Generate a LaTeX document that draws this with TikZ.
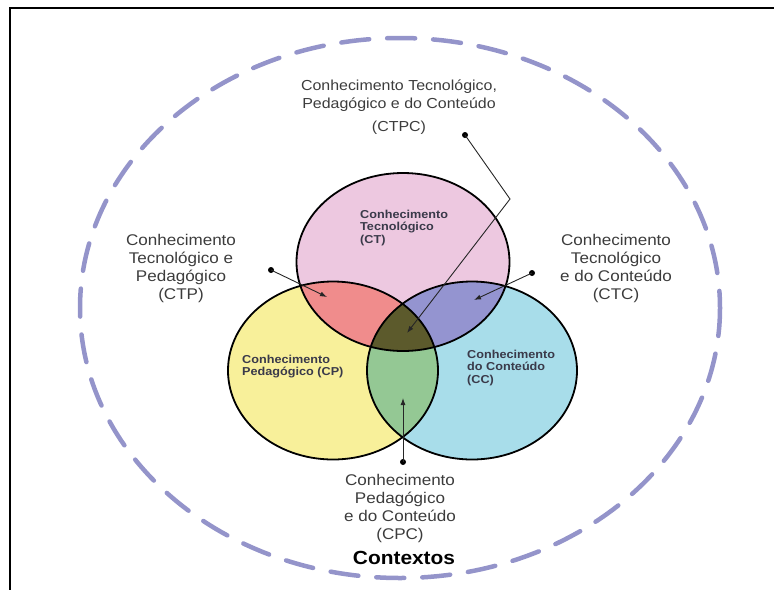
\documentclass[tikz,border=0pt]{standalone}
\usepackage{fontspec}
\setmainfont{Liberation Sans}[FakeStretch=1.1]
\usetikzlibrary{arrows.meta}

\definecolor{ctpink}{HTML}{EDC8E0}
\definecolor{cpyellow}{HTML}{F8F09A}
\definecolor{ccblue}{HTML}{A8DDEA}
\definecolor{ctpred}{HTML}{F08C8C}
\definecolor{ctcviolet}{HTML}{9494D0}
\definecolor{cpcgreen}{HTML}{94C894}
\definecolor{ctpcolive}{HTML}{5C5A2C}
\definecolor{contextline}{HTML}{9494CA}
\definecolor{labelgray}{HTML}{3C3C3C}
\definecolor{innergray}{HTML}{3A3A4A}

\begin{document}
\begin{tikzpicture}[x=1pt, y=-1pt, >={Latex[length=7pt,width=5pt]},
    every node/.style={inner sep=0pt},
    outerlabel/.style={align=center, text=labelgray, font=\fontsize{15.5}{18}\selectfont},
    innerlabel/.style={align=left, text=innergray, font=\bfseries\fontsize{11.5}{12.5}\selectfont},
    vennline/.style={draw=black, line width=1.8pt},
    pointer/.style={draw=black!85, line width=0.9pt},
    pointdot/.style={circle, fill=black, minimum size=6pt}]

    \useasboundingbox (0,0) rectangle (774,590);

    % Frame
    \draw[line width=1.5pt] (774,8) -- (10,8) -- (10,590);

    % Contexts
    \draw[contextline, line width=4.5pt, line cap=round, dash pattern=on 28pt off 18pt]
        (400,308) ellipse [x radius=320, y radius=270];

    % Circles
    \coordinate (ct) at (403,262);
    \coordinate (cp) at (333,370.5);
    \coordinate (cc) at (472,370.5);

    \fill[ctpink] (ct) ellipse [x radius=106.5, y radius=89];
    \fill[cpyellow] (cp) ellipse [x radius=105, y radius=89];
    \fill[ccblue] (cc) ellipse [x radius=105, y radius=89];

    \begin{scope}
        \clip (ct) ellipse [x radius=106.5, y radius=89];
        \fill[ctpred] (cp) ellipse [x radius=105, y radius=89];
        \fill[ctcviolet] (cc) ellipse [x radius=105, y radius=89];
    \end{scope}
    \begin{scope}
        \clip (cp) ellipse [x radius=105, y radius=89];
        \fill[cpcgreen] (cc) ellipse [x radius=105, y radius=89];
        \clip (ct) ellipse [x radius=106.5, y radius=89];
        \fill[ctpcolive] (cc) ellipse [x radius=105, y radius=89];
    \end{scope}

    \draw[vennline] (ct) ellipse [x radius=106.5, y radius=89];
    \draw[vennline] (cp) ellipse [x radius=105, y radius=89];
    \draw[vennline] (cc) ellipse [x radius=105, y radius=89];

    % Nodes
    \node[innerlabel, anchor=west] at (360,228) (ctlabel) {Conhecimento\\Tecnológico\\(CT)};
    \node[innerlabel, anchor=west] at (242,366.5) (cplabel) {Conhecimento\\Pedagógico (CP)};
    \node[innerlabel, anchor=west] at (467,368) (cclabel) {Conhecimento\\do Conteúdo\\(CC)};

    \node[outerlabel, font=\fontsize{14.5}{18.5}\selectfont] at (399,107) (ctpclabel)
        {Conhecimento Tecnológico,\\Pedagógico e do Conteúdo\\[4pt](CTPC)};
    \node[outerlabel] at (181,268) (ctplabel) {Conhecimento\\Tecnológico e\\Pedagógico\\(CTP)};
    \node[outerlabel] at (616,268) (ctclabel) {Conhecimento\\Tecnológico\\e do Conteúdo\\(CTC)};
    \node[outerlabel] at (400,508) (cpclabel) {Conhecimento\\Pedagógico\\e do Conteúdo\\(CPC)};
    \node[font=\bfseries\fontsize{19}{21}\selectfont, text=black] at (404,558) (contextos) {Contextos};

    \node[pointdot] at (465,135) (ctpcdot) {};
    \node[pointdot] at (271,270) (ctpdot) {};
    \node[pointdot] at (532,273) (ctcdot) {};
    \node[pointdot] at (403,462) (cpcdot) {};

    \coordinate (ctpcbend) at (510,199);
    \coordinate (ctpctip) at (407,333);
    \coordinate (ctptip) at (327,297);
    \coordinate (ctctip) at (474,300);
    \coordinate (cpctip) at (403,398);

    % Edges
    \draw[pointer, ->] (ctpcdot.center) -- (ctpcbend) -- (ctpctip);
    \draw[pointer, ->] (ctpdot.center) -- (ctptip);
    \draw[pointer, ->] (ctcdot.center) -- (ctctip);
    \draw[pointer, ->] (cpcdot.center) -- (cpctip);
\end{tikzpicture}
\end{document}
